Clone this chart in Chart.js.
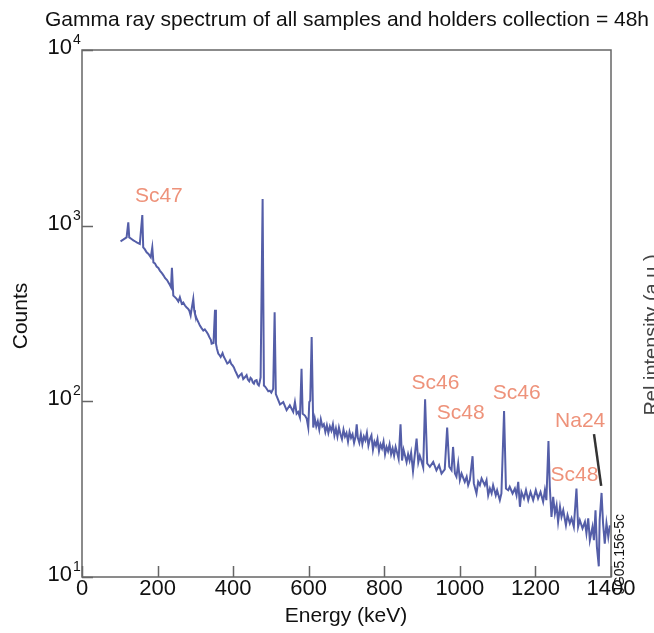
<!DOCTYPE html>
<html>
<head>
<meta charset="utf-8">
<script src="https://cdn.jsdelivr.net/npm/chart.js@4.4.1/dist/chart.umd.min.js"></script>
<style>
  html, body { margin: 0; padding: 0; background: #fff; }
  canvas { display: block; }
</style>
</head>
<body>
<canvas id="spectrum" width="654" height="633"></canvas>
<script>
const energy = [
  102,110,118,122.5,125,131,136,140,146,153,
  159.6,162,166,171,176,182,186,189,193,197.5,
  202,206,212,216,219.6,225,231,235.5,238,241.6,
  246,250.5,255,259,264,268,272.5,277,281,284,
  287.5,289,294.5,297,299,303.4,307,312,316,321,
  325,330,334,337,341,343,348,352,354.5,357,
  360.6,364,367,372,375,378,381,384.5,388,391.5,
  395,398.6,402,405,409,413.6,418,422.5,426.7,431,
  435.6,439,442.6,446,449,452,455,458,462,465,
  468,470,472.7,478,481.5,485,488.6,493,497,501,
  506,509.8,513,516,524,532.6,541.5,550,559,563.5,
  568,572,576.7,581,584,590,594.5,598.8,601.5,604,
  607.8,612,616,620,624,628,632,636,640,644,
  648,652,656,660,664,668,672,676,680,684,
  688,692,696,700,704,708,712,716,720,724,
  727,730,734,738,742,746,750,754,758,762,
  766,770,774,778,782,786,790,794,798,802,
  806,810,814,818,822,826,830,834,838,843,
  847,851,855,859,863,867,871,876,880,885.5,
  890,894,898,903,908,913.6,920.6,929.5,938,945,
  951.5,960,966.4,972,978,982,987,991,995.6,1000,
  1004.5,1013,1018,1022,1026.5,1033.6,1037,1044,1048.5,1053,
  1057.5,1066,1070.6,1075,1079.5,1084,1088,1095,1098.6,1105.8,
  1110,1117,1122,1128,1132,1139.5,1145.6,1150,1154.5,1159,
  1163,1169.6,1175,1181,1187,1194,1201,1207,1213.5,1220.4,
  1225,1229,1234.5,1238,1242.5,1247,1251.6,1256,1260,1265,
  1269,1273.6,1280.7,1285,1291,1295.6,1301.6,1308.6,1313,1317.5,
  1324.6,1331,1335,1339.7,1344,1351,1354.8,1359,1362.6,1367.7,
  1370,1375,1379,1383.5,1388,1392.8,1397];

const counts = [
  815,835,858,1045,858,840,825,815,800,787,
  1150,753,735,705,690,660,753,618,610,585,
  575,555,535,520,504,490,466,446,575,400,
  392,383,370,391,359,365,351,342,336,328,
  308,324,383,330,315,295,285,270,262,253,
  257,248,240,232,224,213,215,332,213,200,
  187,183,179,188,180,175,170,164,166,171,
  163,160,156,150,144,137,141,144,134,137,
  141,133,130,136,134,128,126,131,132,125,
  123,128,137,1419,123,121,118,114,115,112,
  118,321,110,106,96,99,89,95,87,99,
  85,87,81,153,85,83,80,71,99,101,
  232,71,80,72,77,69,79,72,74,67,
  73,66,72,68,74,64,70,63,71,65,
  61,69,63,66,59,67,62,65,58,63,
  74,62,58,65,57,63,60,66,56,61,
  64,53,59,56,61,52,57,54,59,50,
  55,52,57,50,54,49,55,51,47,74,
  46,53,49,45,50,46,51,40,48,61.4,
  45,49,46,42,102.6,44.3,42.4,45.2,40.5,43.3,
  38.8,41,70.9,42.4,40.5,55,38.8,37.2,44.3,35.6,
  38.8,34.8,37.2,33.3,35.6,48.7,34.1,29.9,34.8,33.3,
  36.4,33.3,35.6,29.2,31.9,29.9,33.3,29.2,31.2,27.4,
  29.9,88.1,31.9,31.2,32.6,29.9,31.9,29.2,34.8,25.1,
  30.5,28,31.2,27.4,30.5,27.4,31.2,28,30.5,26.8,
  31.2,27.4,59.5,32.6,22,28.6,23,25.6,20.6,25.1,
  22,24,19.7,22.5,20.2,21.6,19.3,31.9,19.3,21.1,
  18.9,20.6,17.7,21.6,16.2,19.3,16.2,24,14.9,11.5,
  21.1,30.1,20.2,15.5,20.2,16.9,19.7];

// Ejes
const xTicks = [0, 200, 400, 600, 800, 1000, 1200, 1400];
const yTicks = [10, 100, 1000, 10000];
const yExponents = ['1', '2', '3', '4'];

// Etiquetas de picos: texto, energia y cuentas donde se ancla (borde izquierdo, centro vertical)
const peakLabels = ['Sc47', 'Sc46', 'Sc48', 'Sc46', 'Na24', 'Sc48'];
const peakLabelE = [140, 872, 939, 1087, 1252, 1240];
const peakLabelC = [1476, 127, 85.8, 111.5, 77.3, 38.1];

const FONT = "'Liberation Sans', Arial, sans-serif";

const decorations = {
    id: 'decorations',
    afterDraw(chart) {
        const ctx = chart.ctx;
        const area = chart.chartArea;
        const xs = chart.scales.x;
        const ys = chart.scales.y;
        ctx.save();

        // Marco
        ctx.strokeStyle = '#666';
        ctx.lineWidth = 1.5;
        ctx.strokeRect(area.left, area.top, area.right - area.left, area.bottom - area.top);

        // Marcas hacia adentro
        ctx.beginPath();
        xTicks.forEach(v => {
            const px = Math.round(xs.getPixelForValue(v)) + 0.5;
            ctx.moveTo(px, area.bottom);
            ctx.lineTo(px, area.bottom - 11);
        });
        yTicks.forEach(v => {
            const py = Math.round(ys.getPixelForValue(v)) + 0.5;
            ctx.moveTo(area.left, py);
            ctx.lineTo(area.left + 11, py);
        });
        ctx.stroke();

        ctx.fillStyle = '#111';
        // Etiquetas eje x
        ctx.font = '22px ' + FONT;
        ctx.textAlign = 'center';
        ctx.textBaseline = 'middle';
        xTicks.forEach(v => {
            ctx.fillText(String(v), xs.getPixelForValue(v), area.bottom + 12);
        });

        // Etiquetas eje y (10 con exponente)
        yTicks.forEach((v, i) => {
            const py = ys.getPixelForValue(v);
            ctx.font = '22px ' + FONT;
            ctx.textAlign = 'right';
            ctx.fillText('10', 72, py - 2);
            ctx.font = '14px ' + FONT;
            ctx.textAlign = 'left';
            ctx.fillText(yExponents[i], 73, py - 10);
        });

        // Titulos de ejes
        ctx.font = '21px ' + FONT;
        ctx.textAlign = 'center';
        ctx.fillText('Energy (keV)', 346, 616);
        ctx.save();
        ctx.translate(21, 316);
        ctx.rotate(-Math.PI / 2);
        ctx.fillText('Counts', 0, 0);
        ctx.restore();

        // Titulo
        ctx.font = '21px ' + FONT;
        ctx.fillText('Gamma ray spectrum of all samples and holders collection = 48h', 347, 20);

        // Etiquetas de picos
        ctx.fillStyle = 'rgb(238,146,122)';
        ctx.font = '21px ' + FONT;
        ctx.textAlign = 'left';
        peakLabels.forEach((t, i) => {
            ctx.fillText(t, xs.getPixelForValue(peakLabelE[i]), ys.getPixelForValue(peakLabelC[i]));
        });

        // Linea indicadora Na24
        ctx.strokeStyle = '#333';
        ctx.lineWidth = 2.5;
        ctx.beginPath();
        ctx.moveTo(xs.getPixelForValue(1355), ys.getPixelForValue(65));
        ctx.lineTo(xs.getPixelForValue(1374), ys.getPixelForValue(33));
        ctx.stroke();

        // Codigo de figura
        ctx.fillStyle = '#111';
        ctx.font = '14px ' + FONT;
        ctx.textAlign = 'center';
        ctx.save();
        ctx.translate(620, 554);
        ctx.rotate(-Math.PI / 2);
        ctx.fillText('JG05.156-5c', 0, 0);
        ctx.restore();

        // Texto cortado del panel vecino
        ctx.font = '20px ' + FONT;
        ctx.textBaseline = 'top';
        ctx.fillStyle = '#444';
        ctx.save();
        ctx.translate(642, 335);
        ctx.rotate(-Math.PI / 2);
        ctx.fillText('Rel intensity (a.u.)', 0, 0);
        ctx.restore();

        ctx.restore();
    }
};

new Chart(document.getElementById('spectrum'), {
    type: 'line',
    data: {
        datasets: [{
            data: energy.map((e, i) => ({ x: e, y: counts[i] })),
            borderColor: 'rgb(84,94,168)',
            borderWidth: 2,
            pointRadius: 0,
            tension: 0,
            fill: false
        }]
    },
    options: {
        responsive: false,
        animation: false,
        devicePixelRatio: 1,
        layout: { padding: { left: 82, top: 50, right: 43, bottom: 56 } },
        scales: {
            x: { type: 'linear', min: 0, max: 1400, display: false },
            y: { type: 'logarithmic', min: 10, max: 10000, display: false }
        },
        plugins: {
            legend: { display: false },
            tooltip: { enabled: false }
        }
    },
    plugins: [decorations]
});
</script>
</body>
</html>
